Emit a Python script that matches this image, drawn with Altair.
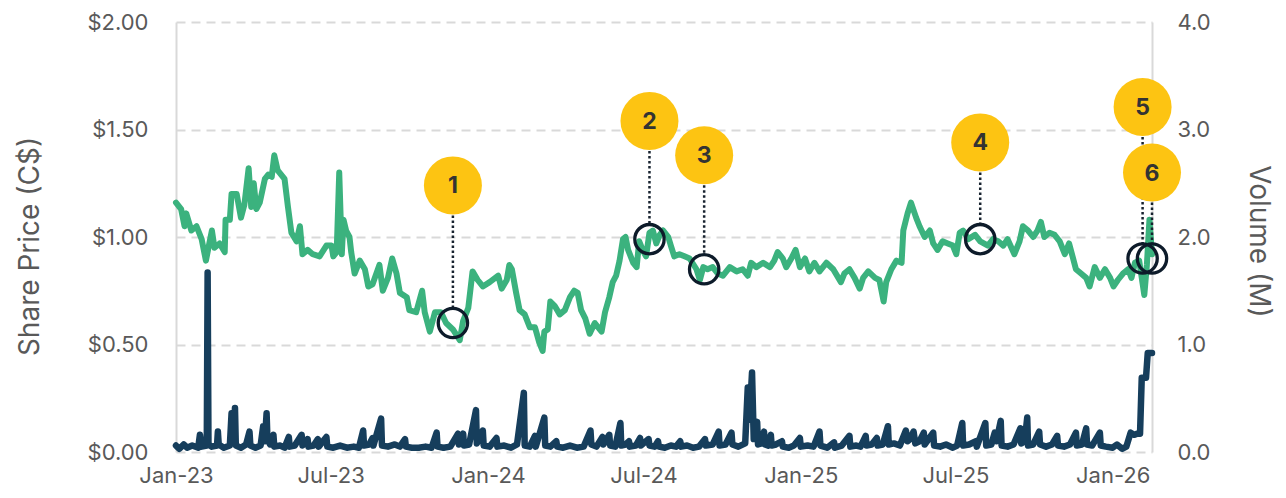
import altair as alt
import pandas as pd

# ---------------- data ----------------
price_dates = [
    "2023-01-01", "2023-01-07", "2023-01-11", "2023-01-13", "2023-01-19", "2023-01-25", "2023-01-31",
    "2023-02-05", "2023-02-09", "2023-02-12", "2023-02-15", "2023-02-21", "2023-02-27", "2023-02-28",
    "2023-03-05", "2023-03-07", "2023-03-13", "2023-03-18", "2023-03-22", "2023-03-27", "2023-03-30",
    "2023-04-02", "2023-04-05", "2023-04-09", "2023-04-15", "2023-04-19", "2023-04-23", "2023-04-26",
    "2023-04-30", "2023-05-08", "2023-05-12", "2023-05-16", "2023-05-22", "2023-05-26", "2023-05-29",
    "2023-06-04", "2023-06-10", "2023-06-18", "2023-06-26", "2023-07-02", "2023-07-04", "2023-07-08",
    "2023-07-11", "2023-07-14", "2023-07-16", "2023-07-19", "2023-07-23", "2023-07-25", "2023-07-29",
    "2023-08-04", "2023-08-10", "2023-08-14", "2023-08-19", "2023-08-27", "2023-08-31", "2023-09-06",
    "2023-09-11", "2023-09-16", "2023-09-20", "2023-09-28", "2023-10-01", "2023-10-09", "2023-10-16",
    "2023-10-19", "2023-10-25", "2023-10-31", "2023-11-07", "2023-11-13", "2023-11-21", "2023-11-29",
    "2023-12-03", "2023-12-09", "2023-12-14", "2023-12-20", "2023-12-26", "2024-01-03", "2024-01-13",
    "2024-01-17", "2024-01-23", "2024-01-26", "2024-01-29", "2024-02-03", "2024-02-07", "2024-02-13",
    "2024-02-19", "2024-02-25", "2024-03-01", "2024-03-05", "2024-03-07", "2024-03-11", "2024-03-14",
    "2024-03-19", "2024-03-25", "2024-03-31", "2024-04-06", "2024-04-11", "2024-04-15", "2024-04-19",
    "2024-04-24", "2024-04-29", "2024-05-05", "2024-05-09", "2024-05-13", "2024-05-17", "2024-05-22",
    "2024-05-26", "2024-05-30", "2024-06-03", "2024-06-07", "2024-06-10", "2024-06-13", "2024-06-19",
    "2024-06-23", "2024-06-26", "2024-06-30", "2024-07-04", "2024-07-08", "2024-07-12", "2024-07-16",
    "2024-07-20", "2024-07-24", "2024-07-30", "2024-08-02", "2024-08-06", "2024-08-12", "2024-08-18",
    "2024-08-24", "2024-09-01", "2024-09-05", "2024-09-09", "2024-09-14", "2024-09-20", "2024-09-26",
    "2024-10-02", "2024-10-10", "2024-10-18", "2024-10-25", "2024-10-31", "2024-11-04", "2024-11-10",
    "2024-11-18", "2024-11-26", "2024-12-01", "2024-12-05", "2024-12-11", "2024-12-15", "2024-12-21",
    "2024-12-26", "2024-12-31", "2025-01-06", "2025-01-11", "2025-01-17", "2025-01-23", "2025-01-31",
    "2025-02-08", "2025-02-17", "2025-02-21", "2025-02-27", "2025-03-05", "2025-03-11", "2025-03-15",
    "2025-03-21", "2025-03-29", "2025-04-03", "2025-04-08", "2025-04-11", "2025-04-17", "2025-04-23",
    "2025-04-29", "2025-05-01", "2025-05-06", "2025-05-10", "2025-05-16", "2025-05-20", "2025-05-26",
    "2025-06-01", "2025-06-05", "2025-06-10", "2025-06-16", "2025-06-22", "2025-06-28", "2025-07-02",
    "2025-07-06", "2025-07-10", "2025-07-16", "2025-07-24", "2025-07-30", "2025-08-08", "2025-08-14",
    "2025-08-20", "2025-08-26", "2025-08-31", "2025-09-08", "2025-09-14", "2025-09-18", "2025-09-24",
    "2025-09-30", "2025-10-05", "2025-10-09", "2025-10-13", "2025-10-19", "2025-10-25", "2025-10-31",
    "2025-11-06", "2025-11-11", "2025-11-15", "2025-11-19", "2025-11-25", "2025-12-01", "2025-12-05",
    "2025-12-11", "2025-12-17", "2025-12-23", "2025-12-29", "2026-01-02", "2026-01-07", "2026-01-13",
    "2026-01-19", "2026-01-23", "2026-01-27", "2026-02-01", "2026-02-07", "2026-02-10", "2026-02-13",
    "2026-02-16",
]
price_values = [
    1.16, 1.13, 1.05, 1.11, 1.03, 1.05, 0.99,
    0.89, 0.97, 1.03, 0.95, 0.97, 0.93, 1.08,
    1.08, 1.20, 1.20, 1.09, 1.15, 1.32, 1.14,
    1.25, 1.13, 1.16, 1.27, 1.29, 1.28, 1.38,
    1.31, 1.27, 1.14, 1.02, 0.98, 1.05, 0.92,
    0.94, 0.92, 0.91, 0.96, 0.96, 0.91, 0.93,
    1.30, 0.92, 1.08, 1.03, 1.00, 0.93, 0.83,
    0.89, 0.85, 0.77, 0.78, 0.87, 0.75, 0.81,
    0.90, 0.83, 0.74, 0.72, 0.66, 0.65, 0.75,
    0.65, 0.56, 0.65, 0.65, 0.60, 0.57, 0.52,
    0.61, 0.67, 0.84, 0.80, 0.77, 0.79, 0.82,
    0.76, 0.80, 0.87, 0.85, 0.74, 0.66, 0.64,
    0.58, 0.58, 0.51, 0.47, 0.56, 0.57, 0.70,
    0.68, 0.64, 0.66, 0.72, 0.75, 0.74, 0.66,
    0.62, 0.55, 0.60, 0.58, 0.56, 0.65, 0.72,
    0.79, 0.82, 0.89, 0.99, 1.00, 0.94, 0.88,
    0.86, 0.98, 0.94, 0.91, 1.02, 1.03, 0.97,
    1.01, 1.03, 1.00, 0.96, 0.91, 0.92, 0.91,
    0.90, 0.85, 0.80, 0.86, 0.85, 0.86, 0.83,
    0.82, 0.86, 0.84, 0.85, 0.82, 0.88, 0.86,
    0.88, 0.86, 0.89, 0.93, 0.90, 0.86, 0.90,
    0.94, 0.86, 0.90, 0.84, 0.88, 0.84, 0.88,
    0.85, 0.79, 0.83, 0.85, 0.81, 0.76, 0.81,
    0.84, 0.81, 0.80, 0.70, 0.79, 0.85, 0.89,
    0.88, 1.03, 1.11, 1.16, 1.09, 1.05, 1.00,
    1.03, 0.97, 0.94, 0.98, 0.97, 0.96, 0.92,
    1.02, 1.03, 0.99, 1.01, 0.98, 0.96, 0.99,
    0.98, 0.96, 0.99, 0.92, 0.98, 1.05, 1.03,
    1.00, 1.03, 1.07, 1.00, 1.02, 1.01, 0.98,
    0.92, 0.97, 0.91, 0.85, 0.83, 0.81, 0.77,
    0.86, 0.81, 0.85, 0.81, 0.77, 0.80, 0.83,
    0.85, 0.81, 0.88, 0.89, 0.73, 0.87, 1.08,
    0.92,
]

volume_dates = [
    "2023-01-01", "2023-01-05", "2023-01-10", "2023-01-14", "2023-01-20", "2023-01-27", "2023-01-29",
    "2023-01-31", "2023-02-06", "2023-02-07", "2023-02-08", "2023-02-12", "2023-02-18", "2023-02-19",
    "2023-02-20", "2023-02-26", "2023-03-05", "2023-03-07", "2023-03-08", "2023-03-10", "2023-03-11",
    "2023-03-12", "2023-03-18", "2023-03-24", "2023-03-28", "2023-03-29", "2023-04-04", "2023-04-10",
    "2023-04-13", "2023-04-15", "2023-04-17", "2023-04-18", "2023-04-21", "2023-04-25", "2023-04-26",
    "2023-05-03", "2023-05-08", "2023-05-13", "2023-05-14", "2023-05-20", "2023-05-28", "2023-05-29",
    "2023-06-04", "2023-06-05", "2023-06-11", "2023-06-16", "2023-06-17", "2023-06-26", "2023-06-27",
    "2023-07-04", "2023-07-12", "2023-07-20", "2023-07-28", "2023-08-03", "2023-08-08", "2023-08-09",
    "2023-08-15", "2023-08-19", "2023-08-20", "2023-08-29", "2023-08-30", "2023-09-06", "2023-09-14",
    "2023-09-20", "2023-09-26", "2023-09-27", "2023-10-04", "2023-10-12", "2023-10-20", "2023-10-27",
    "2023-11-02", "2023-11-03", "2023-11-10", "2023-11-18", "2023-11-27", "2023-11-28", "2023-12-03",
    "2023-12-04", "2023-12-10", "2023-12-18", "2023-12-19", "2023-12-22", "2023-12-26", "2023-12-27",
    "2024-01-03", "2024-01-11", "2024-01-12", "2024-01-20", "2024-01-28", "2024-02-04", "2024-02-12",
    "2024-02-13", "2024-02-19", "2024-02-25", "2024-02-26", "2024-03-07", "2024-03-08", "2024-03-14",
    "2024-03-21", "2024-03-22", "2024-03-29", "2024-04-06", "2024-04-14", "2024-04-22", "2024-04-30",
    "2024-05-01", "2024-05-07", "2024-05-14", "2024-05-15", "2024-05-22", "2024-05-23", "2024-05-29",
    "2024-06-04", "2024-06-05", "2024-06-10", "2024-06-14", "2024-06-15", "2024-06-22", "2024-06-27",
    "2024-06-28", "2024-07-07", "2024-07-08", "2024-07-14", "2024-07-18", "2024-07-19", "2024-07-26",
    "2024-08-02", "2024-08-08", "2024-08-13", "2024-08-14", "2024-08-21", "2024-08-28", "2024-09-04",
    "2024-09-11", "2024-09-12", "2024-09-20", "2024-09-27", "2024-09-28", "2024-10-05", "2024-10-12",
    "2024-10-13", "2024-10-20", "2024-10-28", "2024-10-31", "2024-11-02", "2024-11-05", "2024-11-07",
    "2024-11-11", "2024-11-12", "2024-11-16", "2024-11-19", "2024-11-20", "2024-11-24", "2024-11-27",
    "2024-11-28", "2024-12-03", "2024-12-10", "2024-12-11", "2024-12-18", "2024-12-24", "2024-12-31",
    "2025-01-01", "2025-01-09", "2025-01-16", "2025-01-23", "2025-01-24", "2025-02-01", "2025-02-09",
    "2025-02-10", "2025-02-18", "2025-02-27", "2025-02-28", "2025-03-07", "2025-03-12", "2025-03-18",
    "2025-03-19", "2025-03-25", "2025-03-31", "2025-04-01", "2025-04-07", "2025-04-13", "2025-04-14",
    "2025-04-20", "2025-04-27", "2025-05-04", "2025-05-06", "2025-05-09", "2025-05-13", "2025-05-15",
    "2025-05-20", "2025-05-25", "2025-05-26", "2025-06-05", "2025-06-06", "2025-06-13", "2025-06-20",
    "2025-06-28", "2025-07-03", "2025-07-09", "2025-07-10", "2025-07-17", "2025-07-25", "2025-07-26",
    "2025-08-05", "2025-08-06", "2025-08-12", "2025-08-16", "2025-08-18", "2025-08-23", "2025-08-24",
    "2025-08-31", "2025-09-07", "2025-09-15", "2025-09-16", "2025-09-20", "2025-09-23", "2025-09-24",
    "2025-09-30", "2025-10-07", "2025-10-08", "2025-10-15", "2025-10-22", "2025-10-28", "2025-10-29",
    "2025-11-05", "2025-11-12", "2025-11-19", "2025-11-20", "2025-11-26", "2025-12-01", "2025-12-02",
    "2025-12-08", "2025-12-17", "2025-12-18", "2025-12-24", "2026-01-01", "2026-01-06", "2026-01-12",
    "2026-01-17", "2026-01-22", "2026-01-26", "2026-01-30", "2026-02-02", "2026-02-04", "2026-02-09",
    "2026-02-11", "2026-02-16",
]
volume_values = [
    0.06, 0.03, 0.07, 0.04, 0.06, 0.04, 0.16,
    0.05, 0.06, 1.67, 0.07, 0.05, 0.06, 0.19,
    0.07, 0.04, 0.06, 0.36, 0.10, 0.12, 0.41,
    0.06, 0.04, 0.07, 0.19, 0.06, 0.04, 0.06,
    0.24, 0.10, 0.36, 0.12, 0.07, 0.16, 0.05,
    0.06, 0.04, 0.14, 0.05, 0.06, 0.16, 0.06,
    0.12, 0.05, 0.06, 0.12, 0.05, 0.14, 0.05,
    0.04, 0.06, 0.04, 0.05, 0.04, 0.20, 0.06,
    0.07, 0.13, 0.06, 0.31, 0.06, 0.05, 0.07,
    0.05, 0.12, 0.05, 0.04, 0.04, 0.05, 0.04,
    0.18, 0.05, 0.04, 0.05, 0.17, 0.07, 0.17,
    0.06, 0.07, 0.39, 0.08, 0.12, 0.20, 0.06,
    0.05, 0.13, 0.05, 0.06, 0.04, 0.07, 0.55,
    0.06, 0.05, 0.15, 0.05, 0.32, 0.06, 0.05,
    0.10, 0.05, 0.04, 0.06, 0.04, 0.05, 0.20,
    0.07, 0.05, 0.14, 0.07, 0.16, 0.06, 0.05,
    0.27, 0.06, 0.07, 0.10, 0.05, 0.06, 0.13,
    0.06, 0.12, 0.06, 0.05, 0.10, 0.05, 0.04,
    0.06, 0.05, 0.10, 0.05, 0.06, 0.04, 0.05,
    0.12, 0.06, 0.07, 0.19, 0.06, 0.07, 0.18,
    0.07, 0.05, 0.08, 0.60, 0.30, 0.74, 0.12,
    0.28, 0.07, 0.08, 0.19, 0.07, 0.06, 0.16,
    0.06, 0.07, 0.10, 0.05, 0.04, 0.06, 0.13,
    0.05, 0.06, 0.05, 0.19, 0.06, 0.04, 0.09,
    0.04, 0.06, 0.15, 0.05, 0.06, 0.05, 0.15,
    0.06, 0.07, 0.13, 0.06, 0.07, 0.24, 0.07,
    0.08, 0.06, 0.20, 0.10, 0.12, 0.19, 0.08,
    0.10, 0.18, 0.07, 0.18, 0.06, 0.05, 0.07,
    0.04, 0.06, 0.27, 0.06, 0.07, 0.10, 0.05,
    0.27, 0.06, 0.07, 0.18, 0.10, 0.29, 0.06,
    0.05, 0.07, 0.22, 0.08, 0.10, 0.32, 0.06,
    0.07, 0.19, 0.07, 0.05, 0.07, 0.15, 0.06,
    0.05, 0.07, 0.18, 0.06, 0.07, 0.22, 0.07,
    0.06, 0.18, 0.06, 0.05, 0.04, 0.07, 0.03,
    0.05, 0.18, 0.16, 0.17, 0.17, 0.69, 0.69,
    0.92, 0.92,
]

event_labels = ["1", "2", "3", "4", "5", "6"]
event_dates = ["2023-11-21", "2024-07-08", "2024-09-10", "2025-07-30", "2026-02-05", "2026-02-16"]
event_prices = [0.60, 0.99, 0.85, 0.99, 0.90, 0.90]
label_levels = [1.24, 1.54, 1.38, 1.44, 1.605, 1.30]

x_range = ["2023-01-01", "2026-02-16"]
date_ticks = ["2023-01-01", "2023-07-01", "2024-01-01", "2024-07-01",
              "2025-01-01", "2025-07-01", "2026-01-01"]
price_ticks = [0.0, 0.5, 1.0, 1.5, 2.0]
volume_ticks = [0.0, 1.0, 2.0, 3.0, 4.0]

# ---------------- tables ----------------
price_df = pd.DataFrame({"date": pd.to_datetime(price_dates), "price": price_values})
volume_df = pd.DataFrame({"date": pd.to_datetime(volume_dates), "volume": volume_values})
event_df = pd.DataFrame({"date": pd.to_datetime(event_dates), "price": event_prices,
                         "level": label_levels, "label": event_labels})


def dt(s):
    t = pd.Timestamp(s)
    return alt.DateTime(year=t.year, month=t.month, date=t.day)


FONT = "Inter"
GREY = "#595959"

x_enc = alt.X(
    "date:T",
    scale=alt.Scale(domain=[dt(s) for s in x_range]),
    axis=alt.Axis(values=[dt(s) for s in date_ticks], format="%b-%y", labelFlush=False,
                  grid=False, ticks=False, tickSize=0, domain=False, labelPadding=13,
                  labelFontSize=22, labelColor=GREY, labelFont=FONT, title=None),
)

price_axis = alt.Axis(orient="left", values=price_ticks, format="$.2f", grid=True,
                      gridColor="#d9d9d9", gridDash=[9, 6], gridWidth=2,
                      domain=True, domainColor="#d9d9d9", domainWidth=2,
                      ticks=False, tickSize=0, labelPadding=28, labelFontSize=22,
                      labelColor=GREY, labelFont=FONT,
                      title="Share Price (C$)", titleFont=FONT, titleFontSize=28,
                      titleFontWeight="normal", titleColor=GREY,
                      titleX=-146, titleY=224, titleBaseline="middle", titleAlign="center")
price_scale = alt.Scale(domain=[0, 2], nice=False)

volume_axis = alt.Axis(orient="right", values=volume_ticks, format=".1f", grid=False,
                       domain=True, domainColor="#d9d9d9", domainWidth=2,
                       ticks=False, tickSize=0, labelPadding=25, labelFontSize=22,
                       labelColor=GREY, labelFont=FONT,
                       title="Volume (M)", titleFont=FONT, titleFontSize=28,
                       titleFontWeight="normal", titleColor=GREY,
                       titleX=105, titleY=219, titleBaseline="middle", titleAlign="center")

volume_line = alt.Chart(volume_df).mark_line(
    color="#163e5c", strokeWidth=6.5, strokeJoin="round", strokeCap="round"
).encode(
    x=x_enc,
    y=alt.Y("volume:Q", scale=alt.Scale(domain=[0, 4], nice=False), axis=volume_axis),
)

price_line = alt.Chart(price_df).mark_line(
    color="#3bb27e", strokeWidth=6, strokeJoin="round", strokeCap="round"
).encode(
    x=x_enc,
    y=alt.Y("price:Q", scale=price_scale, axis=price_axis),
)

leaders = alt.Chart(event_df).mark_rule(
    color="#17222e", strokeWidth=2.5, strokeDash=[2.5, 2.5], y2Offset=-15
).encode(
    x=x_enc,
    y=alt.Y("level:Q", scale=price_scale, axis=price_axis),
    y2="price:Q",
)

rings = alt.Chart(event_df).mark_point(
    shape="circle", size=860, filled=False, strokeWidth=3.3, color="#0d1b2a", opacity=1
).encode(
    x=x_enc,
    y=alt.Y("price:Q", scale=price_scale, axis=price_axis),
)

badges = alt.Chart(event_df).mark_circle(size=3364, color="#fdc412", opacity=1).encode(
    x=x_enc,
    y=alt.Y("level:Q", scale=price_scale, axis=price_axis),
)

numbers = alt.Chart(event_df).mark_text(
    font=FONT, fontSize=23, fontWeight="bold", color="#333333", align="center",
    baseline="middle", dy=1
).encode(
    x=x_enc,
    y=alt.Y("level:Q", scale=price_scale, axis=price_axis),
    text="label:N",
)

price_group = alt.layer(price_line, leaders, rings, badges, numbers)

chart = alt.layer(volume_line, price_group).resolve_scale(y="independent").properties(
    width=976,
    height=430,
    autosize=alt.AutoSizeParams(type="none"),
    padding={"left": 168, "top": 14, "right": 126, "bottom": 38},
    background="white",
).configure_view(stroke=None)

chart.save("out.html", embed_options={"renderer": "svg", "actions": False})
